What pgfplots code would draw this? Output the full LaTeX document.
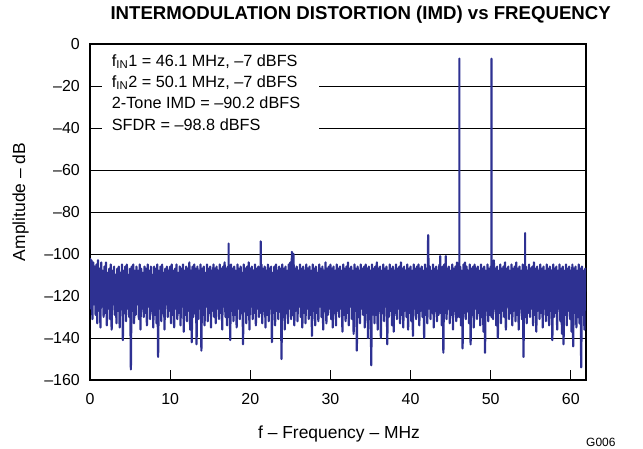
\documentclass[border=0pt]{standalone}
\usepackage{fontspec}
\setmainfont{Liberation Sans}
\usepackage{pgfplots}
\pgfplotsset{compat=1.18}
\definecolor{trace}{RGB}{46,49,146}
\begin{document}
\begin{tikzpicture}
\useasboundingbox (0,0) rectangle (643bp,449bp);
\begin{axis}[
  at={(90bp,69bp)}, anchor=south west,
  scale only axis, width=496bp, height=336bp,
  xmin=0, xmax=61.9, ymin=-160, ymax=0,
  xtick={0,10,...,60}, xticklabels={0,10,20,30,40,50,60},
  ytick={-160,-140,...,0},
  yticklabels={–160,–140,–120,–100,–80,–60,–40,–20,0},
  xtick pos=bottom, tick align=inside,
  xtick style={black, line width=0.8bp},
  major tick length=10bp,
  ytick style={draw=none},
  ymajorgrids, major grid style={black, line width=0.8bp},
  axis line style={black, line width=1.4bp},
  xticklabel style={font=\fontsize{16}{19}\selectfont, inner sep=0pt, yshift=-13bp},
  yticklabel style={font=\fontsize{16}{19}\selectfont, inner sep=0pt, xshift=-10bp},
  clip=true,
]
\fill[white] (axis cs:1.46,-2) rectangle (axis cs:28.6,-47);
\node[anchor=base west, inner sep=0pt, font=\fontsize{16.3}{19}\selectfont] at (axis cs:2.71,-10.5) {f\textsubscript{IN}1 = 46.1 MHz, –7 dBFS};
\node[anchor=base west, inner sep=0pt, font=\fontsize{16.3}{19}\selectfont] at (axis cs:2.71,-20.6) {f\textsubscript{IN}2 = 50.1 MHz, –7 dBFS};
\node[anchor=base west, inner sep=0pt, font=\fontsize{16.3}{19}\selectfont] at (axis cs:2.71,-30.8) {2-Tone IMD = –90.2 dBFS};
\node[anchor=base west, inner sep=0pt, font=\fontsize{16.3}{19}\selectfont] at (axis cs:2.71,-41.0) {SFDR = –98.8 dBFS};
\addplot[trace, line width=2.2bp, line join=round, no markers] coordinates {
(0,-102)(0.1,-126)(0.2,-103)(0.3,-131)(0.4,-104)(0.5,-124)(0.6,-106)(0.7,-129)(0.8,-105)(0.9,-133)
(1,-103)(1.1,-127)(1.2,-107)(1.3,-135)(1.4,-104)(1.5,-125)(1.6,-108)(1.7,-130)(1.8,-106)(1.9,-128)
(2,-104)(2.1,-134)(2.2,-109)(2.3,-126)(2.4,-107)(2.5,-131)(2.6,-105)(2.7,-136)(2.8,-108)(2.9,-124)
(3,-106)(3.1,-129)(3.2,-110)(3.3,-133)(3.4,-107)(3.5,-127)(3.6,-106)(3.7,-135)(3.8,-109)(3.9,-125)
(4,-105)(4.1,-141)(4.2,-108)(4.3,-128)(4.4,-106)(4.5,-132)(4.6,-105)(4.7,-126)(4.8,-110)(4.9,-130)
(5,-107)(5.1,-155)(5.2,-106)(5.3,-127)(5.4,-105)(5.5,-133)(5.6,-108)(5.7,-129)(5.8,-106)(5.9,-124)
(6,-108)(6.1,-131)(6.2,-105)(6.3,-136)(6.4,-107)(6.5,-126)(6.6,-109)(6.7,-130)(6.8,-106)(6.9,-128)
(7,-107)(7.1,-134)(7.2,-105)(7.3,-125)(7.4,-108)(7.5,-131)(7.6,-106)(7.7,-127)(7.8,-110)(7.9,-135)
(8,-106)(8.1,-129)(8.2,-107)(8.3,-133)(8.4,-105)(8.5,-149)(8.6,-108)(8.7,-126)(8.8,-106)(8.9,-132)
(9,-105)(9.1,-128)(9.2,-109)(9.3,-136)(9.4,-107)(9.5,-124)(9.6,-106)(9.7,-130)(9.8,-108)(9.9,-127)
(10,-106)(10.1,-133)(10.2,-105)(10.3,-129)(10.4,-108)(10.5,-135)(10.6,-107)(10.7,-126)(10.8,-105)(10.9,-131)
(11,-109)(11.1,-128)(11.2,-106)(11.3,-134)(11.4,-107)(11.5,-125)(11.6,-105)(11.7,-137)(11.8,-108)(11.9,-129)
(12,-106)(12.1,-132)(12.2,-107)(12.3,-127)(12.4,-104)(12.5,-136)(12.6,-108)(12.7,-142)(12.8,-106)(12.9,-130)
(13,-105)(13.1,-128)(13.2,-107)(13.3,-143)(13.4,-106)(13.5,-131)(13.6,-108)(13.7,-126)(13.8,-105)(13.9,-146)
(14,-107)(14.1,-129)(14.2,-106)(14.3,-134)(14.4,-109)(14.5,-125)(14.6,-105)(14.7,-132)(14.8,-107)(14.9,-128)
(15,-106)(15.1,-135)(15.2,-108)(15.3,-127)(15.4,-105)(15.5,-130)(15.6,-107)(15.7,-133)(15.8,-106)(15.9,-126)
(16,-108)(16.1,-131)(16.2,-105)(16.3,-128)(16.4,-107)(16.5,-136)(16.6,-106)(16.7,-125)(16.8,-104)(16.9,-130)
(17,-107)(17.1,-134)(17.2,-106)(17.3,-130)(17.3,-95)(17.3,-130)(17.4,-108)(17.5,-141)(17.6,-105)(17.7,-127)(17.8,-107)(17.9,-132)
(18,-106)(18.1,-129)(18.2,-108)(18.3,-135)(18.4,-105)(18.5,-126)(18.6,-107)(18.7,-131)(18.8,-106)(18.9,-128)
(19,-109)(19.1,-143)(19.2,-105)(19.3,-127)(19.4,-107)(19.5,-133)(19.6,-106)(19.7,-129)(19.8,-104)(19.9,-136)
(20,-107)(20.1,-125)(20.2,-106)(20.3,-131)(20.4,-108)(20.5,-128)(20.6,-105)(20.7,-134)(20.8,-107)(20.9,-126)
(21,-106)(21.1,-130)(21.2,-108)(21.3,-128)(21.3,-94)(21.3,-128)(21.4,-105)(21.5,-133)(21.6,-107)(21.7,-127)(21.8,-106)(21.9,-135)
(22,-108)(22.1,-129)(22.2,-105)(22.3,-132)(22.4,-107)(22.5,-126)(22.6,-106)(22.7,-142)(22.8,-109)(22.9,-128)
(23,-106)(23.1,-134)(23.2,-105)(23.3,-127)(23.4,-108)(23.5,-131)(23.6,-106)(23.7,-125)(23.8,-107)(23.9,-150)
(24,-105)(24.1,-130)(24.2,-107)(24.3,-136)(24.4,-106)(24.5,-128)(24.6,-108)(24.7,-133)(24.8,-105)(24.9,-126)
(25,-104)(25.1,-131)(25.2,-99)(25.3,-129)(25.4,-100)(25.5,-134)(25.6,-107)(25.7,-127)(25.8,-106)(25.9,-132)
(26,-108)(26.1,-125)(26.2,-105)(26.3,-130)(26.4,-107)(26.5,-135)(26.6,-106)(26.7,-128)(26.8,-108)(26.9,-133)
(27,-105)(27.1,-126)(27.2,-107)(27.3,-131)(27.4,-106)(27.5,-129)(27.6,-108)(27.7,-139)(27.8,-105)(27.9,-127)
(28,-107)(28.1,-134)(28.2,-106)(28.3,-128)(28.4,-109)(28.5,-132)(28.6,-105)(28.7,-125)(28.8,-107)(28.9,-130)
(29,-106)(29.1,-136)(29.2,-108)(29.3,-127)(29.4,-104)(29.5,-133)(29.6,-107)(29.7,-129)(29.8,-106)(29.9,-126)
(30,-105)(30.1,-131)(30.2,-107)(30.3,-135)(30.4,-106)(30.5,-128)(30.6,-108)(30.7,-134)(30.8,-105)(30.9,-127)
(31,-107)(31.1,-130)(31.2,-106)(31.3,-126)(31.4,-108)(31.5,-137)(31.6,-105)(31.7,-129)(31.8,-107)(31.9,-132)
(32,-106)(32.1,-128)(32.2,-104)(32.3,-134)(32.4,-107)(32.5,-125)(32.6,-106)(32.7,-131)(32.8,-108)(32.9,-138)
(33,-105)(33.1,-127)(33.2,-107)(33.3,-146)(33.4,-106)(33.5,-130)(33.6,-108)(33.7,-133)(33.8,-105)(33.9,-126)
(34,-107)(34.1,-129)(34.2,-106)(34.3,-135)(34.4,-105)(34.5,-128)(34.6,-107)(34.7,-140)(34.8,-106)(34.9,-131)
(35,-108)(35.1,-153)(35.2,-105)(35.3,-127)(35.4,-107)(35.5,-133)(35.6,-106)(35.7,-129)(35.8,-104)(35.9,-136)
(36,-107)(36.1,-126)(36.2,-106)(36.3,-140)(36.4,-108)(36.5,-128)(36.6,-105)(36.7,-132)(36.8,-107)(36.9,-125)
(37,-106)(37.1,-143)(37.2,-108)(37.3,-130)(37.4,-105)(37.5,-127)(37.6,-107)(37.7,-134)(37.8,-106)(37.9,-137)
(38,-108)(38.1,-128)(38.2,-105)(38.3,-131)(38.4,-107)(38.5,-126)(38.6,-106)(38.7,-133)(38.8,-104)(38.9,-129)
(39,-107)(39.1,-135)(39.2,-106)(39.3,-127)(39.4,-108)(39.5,-130)(39.6,-105)(39.7,-136)(39.8,-107)(39.9,-128)
(40,-106)(40.1,-132)(40.2,-108)(40.3,-139)(40.4,-105)(40.5,-126)(40.6,-107)(40.7,-131)(40.8,-106)(40.9,-128)
(41,-105)(41.1,-134)(41.2,-107)(41.3,-127)(41.4,-106)(41.5,-130)(41.6,-108)(41.7,-140)(41.8,-105)(41.9,-129)
(42,-107)(42.1,-133)(42.2,-91)(42.3,-126)(42.4,-106)(42.5,-131)(42.6,-108)(42.7,-128)(42.8,-105)(42.9,-135)
(43,-107)(43.1,-127)(43.2,-106)(43.3,-132)(43.4,-108)(43.5,-129)(43.6,-105)(43.7,-128)(43.7,-101)(43.7,-128)(43.8,-107)(43.9,-134)
(44,-106)(44.1,-147)(44.2,-105)(44.3,-128)(44.4,-101)(44.5,-131)(44.6,-107)(44.7,-126)(44.8,-106)(44.9,-133)
(45,-108)(45.1,-129)(45.2,-105)(45.3,-136)(45.4,-107)(45.5,-127)(45.6,-106)(45.7,-132)(45.8,-104)(45.9,-130)
(46,-107)(46.1,-130)(46.1,-7)(46.1,-130)(46.2,-106)(46.3,-134)(46.4,-108)(46.5,-145)(46.6,-105)(46.7,-128)(46.8,-104)(46.9,-131)
(47,-106)(47.1,-127)(47.2,-108)(47.3,-133)(47.4,-105)(47.5,-143)(47.6,-107)(47.7,-129)(47.8,-106)(47.9,-135)
(48,-105)(48.1,-126)(48.2,-107)(48.3,-131)(48.4,-106)(48.5,-128)(48.6,-108)(48.7,-134)(48.8,-105)(48.9,-130)
(49,-107)(49.1,-137)(49.2,-106)(49.3,-147)(49.4,-108)(49.5,-127)(49.6,-105)(49.7,-132)(49.8,-107)(49.9,-129)
(50,-106)(50.1,-130)(50.1,-7)(50.1,-130)(50.2,-105)(50.3,-131)(50.4,-103)(50.5,-126)(50.6,-107)(50.7,-134)(50.8,-106)(50.9,-140)
(51,-108)(51.1,-128)(51.2,-105)(51.3,-133)(51.4,-107)(51.5,-127)(51.6,-106)(51.7,-130)(51.8,-104)(51.9,-136)
(52,-107)(52.1,-125)(52.2,-106)(52.3,-131)(52.4,-108)(52.5,-128)(52.6,-105)(52.7,-134)(52.8,-107)(52.9,-127)
(53,-106)(53.1,-132)(53.2,-104)(53.3,-129)(53.4,-107)(53.5,-136)(53.6,-106)(53.7,-126)(53.8,-108)(53.9,-131)
(54,-105)(54.1,-149)(54.2,-107)(54.3,-130)(54.3,-90)(54.3,-130)(54.4,-106)(54.5,-133)(54.6,-108)(54.7,-128)(54.8,-105)(54.9,-130)
(55,-107)(55.1,-126)(55.2,-106)(55.3,-134)(55.4,-104)(55.5,-129)(55.6,-107)(55.7,-137)(55.8,-106)(55.9,-127)
(56,-108)(56.1,-131)(56.2,-105)(56.3,-128)(56.4,-107)(56.5,-135)(56.6,-106)(56.7,-126)(56.8,-108)(56.9,-132)
(57,-105)(57.1,-129)(57.2,-107)(57.3,-134)(57.4,-106)(57.5,-127)(57.6,-108)(57.7,-141)(57.8,-105)(57.9,-130)
(58,-107)(58.1,-128)(58.2,-106)(58.3,-136)(58.4,-108)(58.5,-126)(58.6,-105)(58.7,-132)(58.8,-107)(58.9,-138)
(59,-106)(59.1,-143)(59.2,-108)(59.3,-129)(59.4,-105)(59.5,-134)(59.6,-107)(59.7,-127)(59.8,-106)(59.9,-131)
(60,-108)(60.1,-137)(60.2,-105)(60.3,-144)(60.4,-107)(60.5,-128)(60.6,-106)(60.7,-135)(60.8,-108)(60.9,-130)
(61,-105)(61.1,-133)(61.2,-107)(61.3,-154)(61.4,-106)(61.5,-129)(61.6,-108)(61.7,-136)(61.8,-107)(61.9,-108)
};
\end{axis}
\node[anchor=base east, inner sep=0pt, font=\fontsize{18.7}{22}\bfseries] at (611bp,429.5bp) {INTERMODULATION DISTORTION (IMD) vs FREQUENCY};
\node[anchor=base, inner sep=0pt, font=\fontsize{17.5}{21}\selectfont] at (339bp,11bp) {f – Frequency – MHz};
\node[anchor=base, rotate=90, inner sep=0pt, font=\fontsize{17.5}{21}\selectfont] at (25bp,247bp) {Amplitude – dB};
\node[anchor=base west, inner sep=0pt, font=\fontsize{12}{14}\selectfont] at (586bp,3bp) {G006};
\end{tikzpicture}
\end{document}
